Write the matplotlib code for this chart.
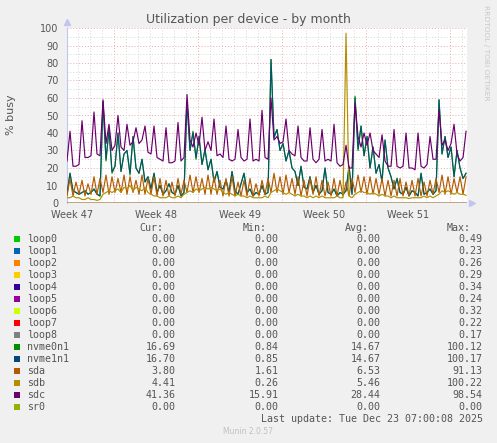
import numpy as np
import matplotlib
matplotlib.use("Agg")
import matplotlib.pyplot as plt
from matplotlib.patches import Rectangle

# values, one point every 6 hours
nvme0n1 = [5, 17, 7, 6, 5, 6, 7, 5, 6, 8, 5, 4, 58, 24, 42, 17,
           21, 40, 18, 28, 30, 16, 38, 20, 17, 25, 12, 15, 8, 17, 6, 10,
           5, 7, 11, 6, 5, 10, 4, 6, 58, 30, 41, 25, 38, 22, 31, 19,
           25, 12, 18, 9, 8, 13, 6, 18, 7, 5, 11, 17, 6, 8, 4, 6,
           5, 10, 5, 6, 82, 38, 42, 30, 34, 24, 30, 20, 18, 10, 21, 9,
           8, 15, 6, 10, 5, 7, 20, 6, 5, 8, 4, 6, 5, 7, 21, 5,
           61, 30, 44, 27, 38, 20, 32, 17, 22, 12, 36, 20, 15, 8, 14, 6,
           5, 9, 4, 7, 6, 4, 17, 5, 6, 8, 5, 7, 59, 28, 38, 26,
           32, 15, 30, 20, 14, 17]
nvme1n1 = [5, 17, 7, 6, 5, 6, 7, 5, 6, 8, 5, 4, 58, 25, 42, 18,
           21, 40, 18, 28, 30, 17, 38, 20, 17, 25, 12, 15, 8, 17, 6, 10,
           5, 7, 11, 6, 5, 10, 4, 6, 58, 30, 40, 26, 38, 22, 30, 19,
           25, 12, 18, 9, 8, 13, 6, 18, 7, 5, 11, 17, 6, 8, 4, 6,
           5, 10, 5, 6, 82, 37, 42, 30, 34, 24, 30, 20, 18, 10, 21, 9,
           8, 15, 6, 10, 5, 7, 20, 6, 5, 8, 4, 6, 5, 7, 21, 5,
           60, 31, 44, 27, 38, 20, 32, 17, 22, 12, 36, 20, 15, 8, 14, 6,
           5, 9, 4, 7, 6, 4, 17, 5, 6, 8, 5, 7, 59, 28, 38, 26,
           32, 15, 30, 20, 14, 17]
sda = [4, 14, 4, 12, 5, 13, 4, 11, 5, 15, 5, 14, 6, 16, 5, 15,
       6, 14, 6, 16, 5, 15, 6, 13, 5, 16, 5, 14, 5, 15, 4, 14,
       4, 13, 4, 12, 4, 14, 5, 13, 6, 16, 6, 15, 6, 14, 5, 16,
       5, 15, 5, 13, 4, 14, 4, 15, 4, 12, 4, 13, 4, 14, 4, 11,
       4, 13, 5, 14, 6, 17, 6, 15, 5, 16, 6, 14, 5, 15, 4, 13,
       4, 14, 5, 15, 4, 13, 4, 12, 4, 14, 4, 13, 4, 12, 4, 14,
       6, 16, 6, 15, 5, 15, 5, 14, 5, 14, 4, 13, 4, 13, 4, 14,
       4, 12, 4, 13, 4, 14, 4, 12, 4, 13, 5, 14, 6, 16, 5, 15,
       5, 14, 6, 15, 5, 15]
sdb = [3, 3, 4, 3, 3, 2, 2, 3, 2, 2, 1.5, 2, 5, 6, 7, 6,
       7, 8, 6, 9, 8, 10, 7, 9, 8, 7, 9, 6, 5, 4, 4, 3,
       3, 3, 4, 3, 3, 4, 3, 5, 6, 7, 6, 8, 7, 8, 9, 8,
       9, 8, 7, 8, 6, 5, 6, 5, 4, 5, 4, 4, 3, 4, 3, 3,
       3, 3, 4, 3, 6, 7, 8, 7, 6, 5, 6, 5, 4, 5, 4, 4,
       3, 4, 3, 4, 3, 4, 3, 3, 3, 3, 4, 3, 3, 97, 4, 3,
       5, 6, 7, 6, 6, 5, 6, 5, 4, 5, 4, 4, 3, 4, 3, 3,
       3, 3, 2.5, 3, 3, 3, 3, 4, 3, 4, 3, 4, 5, 7, 6, 7,
       6, 5, 6, 5, 5, 4.4]
sdc = [24, 41, 21, 21, 22, 47, 26, 26, 27, 52, 28, 27, 59, 34, 45, 30,
       33, 50, 32, 30, 45, 33, 35, 43, 34, 36, 44, 29, 28, 44, 26, 25,
       24, 43, 23, 23, 24, 46, 24, 26, 62, 36, 32, 40, 33, 49, 30, 35,
       30, 48, 27, 28, 26, 44, 25, 24, 25, 42, 26, 24, 25, 48, 24, 25,
       24, 53, 26, 25, 60, 36, 38, 34, 35, 48, 30, 28, 27, 44, 26, 24,
       24, 43, 25, 23, 25, 42, 24, 25, 24, 45, 23, 21, 22, 33, 20, 20,
       57, 38, 32, 40, 33, 40, 30, 28, 26, 39, 24, 21, 21, 42, 21, 20,
       21, 40, 20, 20, 19, 40, 21, 20, 22, 38, 25, 25, 53, 33, 36, 30,
       34, 45, 28, 24, 26, 41]

devices = ["loop0", "loop1", "loop2", "loop3", "loop4", "loop5", "loop6", "loop7",
           "loop8", "nvme0n1", "nvme1n1", "sda", "sdb", "sdc", "sr0"]
colors = ["#00CC00", "#0066B3", "#FF8000", "#FFCC00", "#330099", "#990099", "#CCFF00",
          "#FF0000", "#808080", "#008F00", "#00487D", "#B35A00", "#B38F00", "#6B006B", "#8FB300"]
cur = ["0.00"] * 9 + ["16.69", "16.70", "3.80", "4.41", "41.36", "0.00"]
mins = ["0.00"] * 9 + ["0.84", "0.85", "1.61", "0.26", "15.91", "0.00"]
avgs = ["0.00"] * 9 + ["14.67", "14.67", "6.53", "5.46", "28.44", "0.00"]
maxs = ["0.49", "0.23", "0.26", "0.29", "0.34", "0.24", "0.32", "0.22", "0.17",
        "100.12", "100.17", "91.13", "100.22", "98.54", "0.00"]

week_labels = ["Week 47", "Week 48", "Week 49", "Week 50", "Week 51"]
first_monday = 3.92   # days from left edge to first week boundary
span = 33.33

W, H = 497, 443
fig = plt.figure(figsize=(W / 100, H / 100), dpi=100, facecolor="#F0F0F0")
ax = fig.add_axes([67 / W, (H - 203) / H, 400 / W, 175 / H])
ax.set_facecolor("white")

t = np.arange(len(sdc)) * 0.25
zero = np.zeros(len(t))

series = {"nvme0n1": nvme0n1, "nvme1n1": nvme1n1, "sda": sda, "sdb": sdb, "sdc": sdc}

# grid
for v in range(5, 100, 5):
    if v % 10:
        ax.axhline(v, color="#D6D6D6", lw=0.7, ls=(0, (1, 2)), zorder=0)
for v in range(10, 101, 10):
    ax.axhline(v, color="#F0A8A8", lw=0.7, ls=(0, (1, 2)), zorder=0)
d = first_monday - 3
while d < span:
    if abs((d - first_monday) % 7) < 1e-6:
        ax.axvline(d, color="#F0A8A8", lw=0.7, ls=(0, (1, 2)), zorder=0)
    else:
        ax.axvline(d, color="#D6D6D6", lw=0.7, ls=(0, (1, 2)), zorder=0)
    d += 1

for name, col in zip(devices, colors):
    y = series.get(name, zero)
    alpha = 0.8 if name == "nvme1n1" else 1
    ax.plot(t, y, color=col, lw=0.85, alpha=alpha, zorder=3)

ax.set_xlim(0, span)
ax.set_ylim(0, 100)
ax.set_yticks(range(0, 101, 10))
ax.set_xticks([first_monday - 3.5 + 7 * k for k in range(5)])
ax.set_xticklabels(week_labels)
ax.tick_params(length=0, labelsize=7, colors="#555555", pad=5)
ax.tick_params(axis="y", pad=6)
for s in ["top", "right", "bottom"]:
    ax.spines[s].set_visible(False)
ax.spines["left"].set_color("#C0C6F0")
ax.plot([0], [1.035], marker="^", color="#C0C6F0", ms=4, transform=ax.transAxes, clip_on=False)
ax.plot([1.013], [0], marker=">", color="#C0C6F0", ms=4, transform=ax.transAxes, clip_on=False)

fig.text(248 / W, 1 - 19 / H, "Utilization per device - by month", ha="center", va="center",
         fontsize=9, color="#555555")
fig.text(11 / W, 1 - 115 / H, "% busy", ha="center", va="center", rotation=90,
         fontsize=8, color="#555555")
fig.text(486 / W, 1 - 5 / H, "RRDTOOL / TOBI OETIKER", ha="center", va="top", rotation=270,
         fontsize=5.4, color="#C8C8C8")

mono = dict(family="DejaVu Sans Mono", fontsize=7.2, color="#555555", va="center")
for lab, xc in zip(["Cur:", "Min:", "Avg:", "Max:"], [151.7, 255, 356.7, 458.3]):
    fig.text(xc / W, 1 - 228.3 / H, lab, ha="center", **mono)
for i, name in enumerate(devices):
    yy = 239.3 + 12 * i
    fig.patches.append(Rectangle((14 / W, 1 - (yy + 3) / H), 6 / W, 6 / H,
                                 transform=fig.transFigure, facecolor=colors[i], edgecolor="none"))
    fig.text(26.7 / W, 1 - yy / H, name, ha="left", **mono)
    for vals, xr in zip([cur, mins, avgs, maxs], [175.7, 278.7, 380.3, 482.7]):
        fig.text(xr / W, 1 - yy / H, vals[i], ha="right", **mono)
fig.text(482.7 / W, 1 - 419.3 / H, "Last update: Tue Dec 23 07:00:08 2025", ha="right", **mono)
fig.text(248 / W, 1 - 432 / H, "Munin 2.0.57", ha="center", va="center", fontsize=5.5, color="#C0C0C0")

fig.savefig("out.png", dpi=100, facecolor=fig.get_facecolor())
